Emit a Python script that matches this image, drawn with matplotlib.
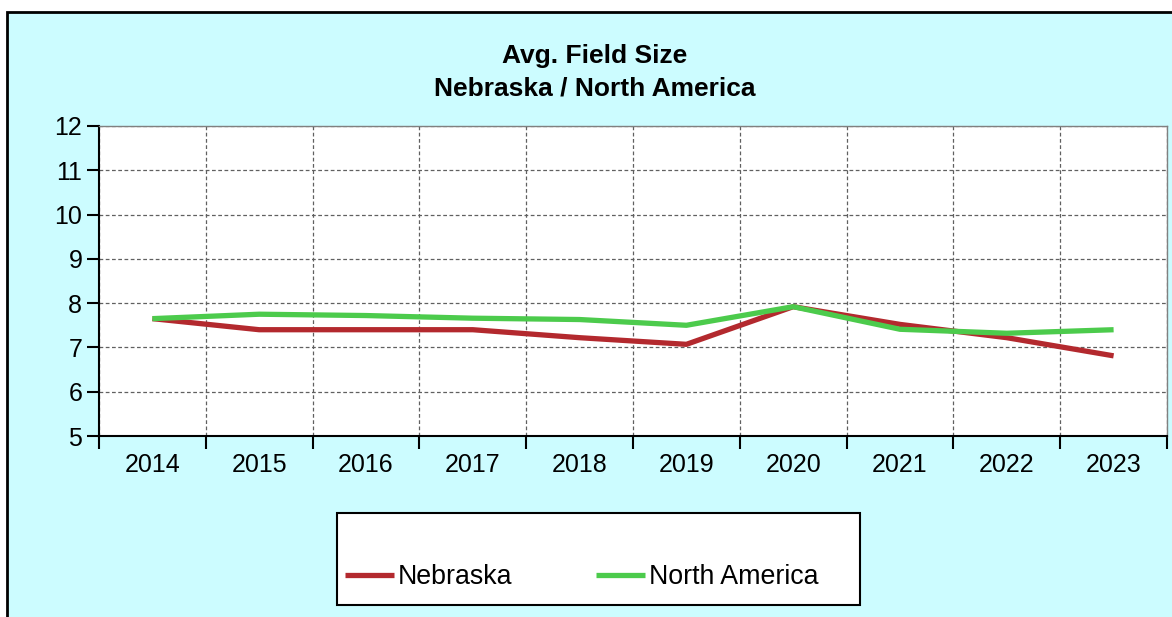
import numpy as np
import matplotlib
matplotlib.use('Agg')
import matplotlib.pyplot as plt
from matplotlib.patches import Rectangle

plt.rcParams['font.family'] = ['Liberation Sans', 'DejaVu Sans']

# data
years = ['2014', '2015', '2016', '2017', '2018', '2019', '2020', '2021', '2022', '2023']
nebraska = [7.65, 7.40, 7.40, 7.40, 7.22, 7.07, 7.92, 7.52, 7.22, 6.81]
north_america = [7.65, 7.75, 7.72, 7.66, 7.63, 7.50, 7.92, 7.41, 7.32, 7.40]
series_names = ['Nebraska', 'North America']
series_colors = ['#b3292e', '#4ccb4c']
title_lines = ['Avg. Field Size', 'Nebraska / North America']

W, H = 1172, 617
fig = plt.figure(figsize=(W / 100, H / 100), dpi=100, facecolor='white')

def fx(px):
    return px / W

def fy(py):
    return 1 - py / H

# cyan panel with black border on left/top
fig.patches.append(Rectangle((fx(7), -0.1), 1.2, fy(12) + 0.1, transform=fig.transFigure,
                             facecolor='#ccfcff', edgecolor='black', lw=2, zorder=0))

ax = fig.add_axes([fx(99), fy(436), fx(1167) - fx(99), fy(126) - fy(436)])
ax.set_zorder(3)
ax.set_facecolor('white')

x = np.arange(len(years))
for vals, name, col in zip([nebraska, north_america], series_names, series_colors):
    ax.plot(x, vals, color=col, lw=3.8, label=name, solid_capstyle='butt', zorder=3)

ax.set_xlim(-0.5, len(years) - 0.5)
ax.set_ylim(5, 12)
ax.set_yticks(range(5, 13))
ax.set_xticks(x)
ax.set_xticklabels(years)
ax.set_xticks(np.arange(-0.5, len(years)), minor=True)

ax.tick_params(axis='x', which='major', length=0, pad=12, labelsize=18)
ax.tick_params(axis='x', which='minor', length=9, width=1.5, color='black', direction='out')
ax.tick_params(axis='y', which='major', length=9, width=1.5, pad=3, labelsize=18)

ax.grid(True, axis='y', which='major', color='#606060', ls=(0, (3, 2)), lw=0.9)
ax.grid(True, axis='x', which='minor', color='#606060', ls=(0, (3, 2)), lw=0.9)

for side in ['left', 'bottom']:
    ax.spines[side].set_color('black')
    ax.spines[side].set_linewidth(1.5)
for side in ['top', 'right']:
    ax.spines[side].set_color('#808080')
    ax.spines[side].set_linewidth(1)

fig.text(fx(595), fy(56), title_lines[0], ha='center', va='center', fontsize=19, fontweight='bold')
fig.text(fx(595), fy(89), title_lines[1], ha='center', va='center', fontsize=19, fontweight='bold')

# legend box
fig.patches.append(Rectangle((fx(337), fy(605)), fx(860) - fx(337), fy(513) - fy(605),
                             transform=fig.transFigure, facecolor='white', edgecolor='black',
                             lw=1.5, zorder=1))
handles, labels = ax.get_legend_handles_labels()
leg = fig.legend(handles, labels, loc='center left', bbox_to_anchor=(fx(345), fy(577)),
                 ncol=2, frameon=False, fontsize=19.3, handlelength=1.83, handletextpad=0.15,
                 columnspacing=3.1, borderpad=0, borderaxespad=0)

fig.savefig('out.png', dpi=100, facecolor='white')
